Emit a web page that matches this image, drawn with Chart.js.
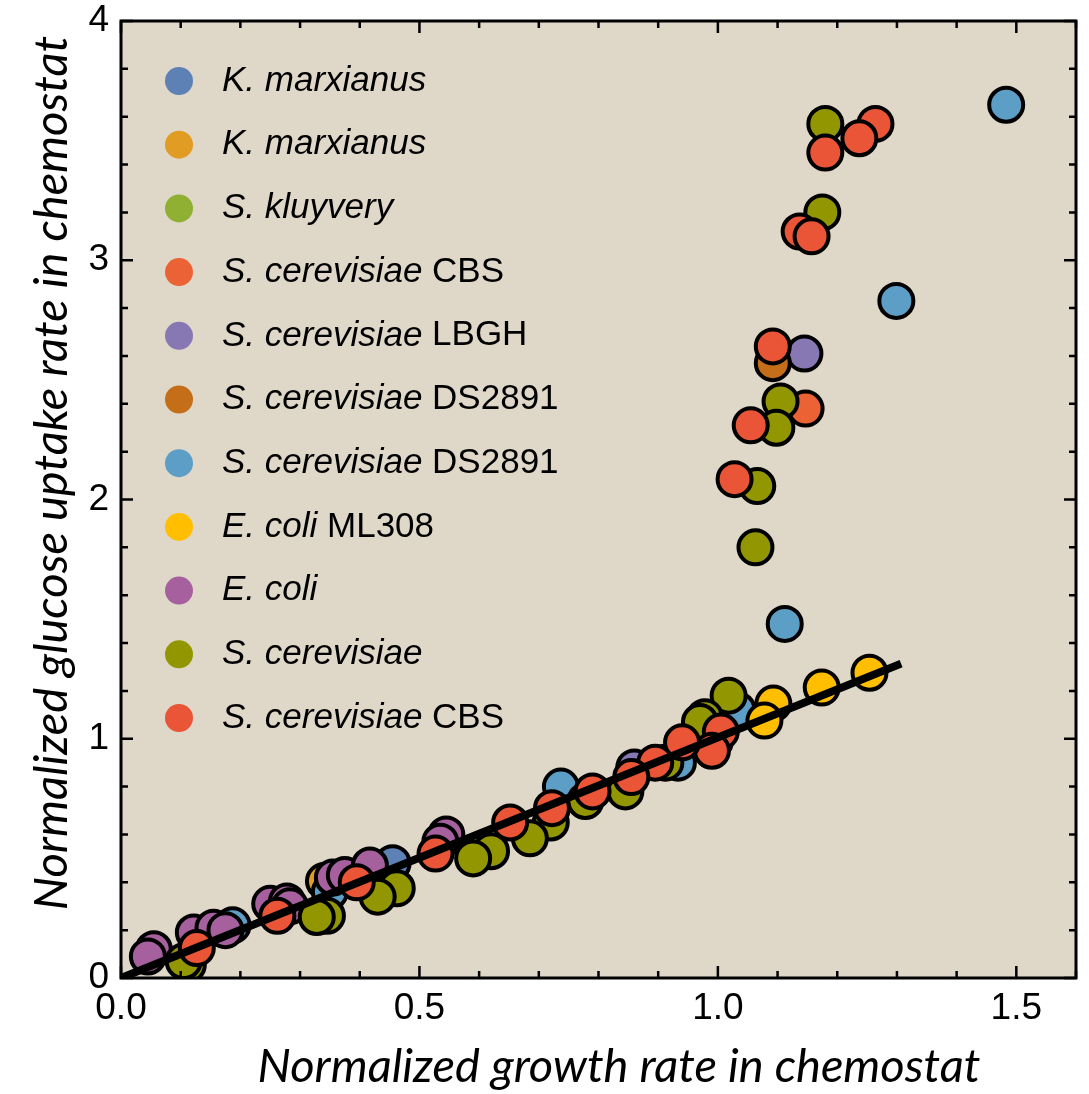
<!DOCTYPE html>
<html lang="en">
<head>
  <meta charset="UTF-8">
  <title>Glucose uptake vs growth rate</title>
  <style>
    body { margin: 0; background: #fff; }
    #grafico { display: block; }
  </style>
</head>
<body>
  <canvas id="grafico" width="1089" height="1094"></canvas>

  <script src="https://cdn.jsdelivr.net/npm/chart.js"></script>
  <script>
    // legend text: italic species name + plain strain name
    const nameItalic = ["K. marxianus", "K. marxianus", "S. kluyvery", "S. cerevisiae", "S. cerevisiae",
      "S. cerevisiae", "S. cerevisiae", "E. coli", "E. coli", "S. cerevisiae", "S. cerevisiae"];
    const namePlain = ["", "", "", "CBS", "LBGH", "DS2891", "DS2891", "ML308", "", "", "CBS"];
    const colores = ["#5e81b5", "#e19c24", "#8fb032", "#eb6235", "#8778b3", "#c56e1a",
      "#5d9ec7", "#ffbf00", "#a5609d", "#929600", "#e95536"];

    // normalized growth rate (x) / normalized glucose uptake rate (y), one pair per series
    const growthKm1 = [0.455, 0.36];
    const uptakeKm1 = [0.48, 0.41];
    const growthKm2 = [0.34, 0.355];
    const uptakeKm2 = [0.405, 0.395];
    const growthSk = [0.975];
    const uptakeSk = [1.06];
    const growthCbs1 = [1.147];
    const uptakeCbs1 = [2.38];
    const growthLbgh = [1.145, 0.86];
    const uptakeLbgh = [2.61, 0.88];
    const growthDs1 = [1.092];
    const uptakeDs1 = [2.57];
    const growthDs2 = [1.483, 1.299, 1.112, 1.033, 0.737, 0.933, 0.187, 0.35, 0.995];
    const uptakeDs2 = [3.65, 2.83, 1.48, 1.12, 0.80, 0.90, 0.22, 0.36, 0.99];
    const growthMl = [1.254, 1.174, 1.093, 1.078];
    const uptakeMl = [1.276, 1.214, 1.147, 1.076];
    const growthEc = [0.055, 0.045, 0.122, 0.155, 0.175, 0.25, 0.278, 0.283, 0.355, 0.375, 0.417, 0.545, 0.535];
    const uptakeEc = [0.12, 0.09, 0.19, 0.21, 0.20, 0.31, 0.32, 0.30, 0.42, 0.43, 0.47, 0.60, 0.57];
    const growthSc = [1.18, 1.175, 1.105, 1.098, 1.066, 1.063, 1.018, 0.978, 0.97, 0.912, 0.845, 0.778,
      0.72, 0.685, 0.62, 0.59, 0.462, 0.43, 0.345, 0.328, 0.112, 0.105];
    const uptakeSc = [3.57, 3.20, 2.41, 2.30, 2.056, 1.80, 1.18, 1.09, 1.07, 0.90, 0.78, 0.74,
      0.65, 0.584, 0.53, 0.50, 0.375, 0.34, 0.26, 0.255, 0.055, 0.07];
    const growthCbs2 = [1.264, 1.237, 1.18, 1.137, 1.157, 1.055, 1.028, 1.092, 1.005, 0.99, 0.94, 0.895,
      0.855, 0.79, 0.722, 0.652, 0.527, 0.395, 0.262, 0.127];
    const uptakeCbs2 = [3.57, 3.51, 3.45, 3.12, 3.10, 2.31, 2.085, 2.64, 1.03, 0.95, 0.985, 0.90,
      0.84, 0.78, 0.71, 0.65, 0.52, 0.40, 0.26, 0.125];

    // fitted line
    const lineaX = [0, 1.307];
    const lineaY = [0, 1.314];

    const xTicks = [0, 0.5, 1.0, 1.5];
    const yTicks = [0, 1, 2, 3, 4];

    const series = [
      [growthKm1, uptakeKm1], [growthKm2, uptakeKm2], [growthSk, uptakeSk], [growthCbs1, uptakeCbs1],
      [growthLbgh, uptakeLbgh], [growthDs1, uptakeDs1], [growthDs2, uptakeDs2], [growthMl, uptakeMl],
      [growthEc, uptakeEc], [growthSc, uptakeSc], [growthCbs2, uptakeCbs2]
    ];

    function puntos(xs, ys) {
      return xs.map((x, i) => ({ x: x, y: ys[i] }));
    }

    const datasets = series.map((s, i) => ({
      label: nameItalic[i] + " " + namePlain[i],
      data: puntos(s[0], s[1]),
      backgroundColor: colores[i],
      borderColor: "#000",
      borderWidth: 4,
      pointRadius: 17,
      pointHoverRadius: 17,
      order: series.length - i
    }));

    datasets.push({
      type: "line",
      label: "fit",
      data: puntos(lineaX, lineaY),
      borderColor: "#000",
      borderWidth: 8,
      pointRadius: 0,
      order: 0
    });

    const BG = "#dfd8c9";

    const marco = {
      id: "marco",
      beforeDraw(chart) {
        const { ctx, chartArea: a } = chart;
        ctx.save();
        ctx.fillStyle = BG;
        ctx.fillRect(a.left, a.top, a.right - a.left, a.bottom - a.top);
        ctx.restore();
      },
      afterDraw(chart) {
        const { ctx, chartArea: a, scales } = chart;
        ctx.save();
        // inward ticks on all four sides
        ctx.strokeStyle = "#000";
        ctx.lineWidth = 2.5;
        for (let k = 0; k <= 16; k++) {
          const px = scales.x.getPixelForValue(k / 10);
          const len = k % 5 === 0 ? 12 : 7;
          ctx.beginPath();
          ctx.moveTo(px, a.bottom); ctx.lineTo(px, a.bottom - len);
          ctx.moveTo(px, a.top); ctx.lineTo(px, a.top + len);
          ctx.stroke();
        }
        for (let k = 0; k <= 20; k++) {
          const py = scales.y.getPixelForValue(k / 5);
          const len = k % 5 === 0 ? 12 : 7;
          ctx.beginPath();
          ctx.moveTo(a.left, py); ctx.lineTo(a.left + len, py);
          ctx.moveTo(a.right, py); ctx.lineTo(a.right - len, py);
          ctx.stroke();
        }
        ctx.lineWidth = 3;
        ctx.strokeRect(a.left, a.top, a.right - a.left, a.bottom - a.top);

        // legend
        const fs = 35;
        for (let i = 0; i < nameItalic.length; i++) {
          const cy = 81 + i * 63.7;
          ctx.fillStyle = colores[i];
          ctx.beginPath();
          ctx.arc(179, cy, 14, 0, Math.PI * 2);
          ctx.fill();
          ctx.fillStyle = "#000";
          ctx.textBaseline = "middle";
          ctx.textAlign = "left";
          ctx.font = "italic " + fs + "px 'Liberation Sans', Arial, sans-serif";
          ctx.fillText(nameItalic[i], 222, cy);
          if (namePlain[i]) {
            const w = ctx.measureText(nameItalic[i] + " ").width;
            ctx.font = fs + "px 'Liberation Sans', Arial, sans-serif";
            ctx.fillText(namePlain[i], 222 + w, cy);
          }
        }

        // axis titles
        ctx.fillStyle = "#000";
        ctx.font = "italic 47px Lato, 'Open Sans', sans-serif";
        ctx.textAlign = "center";
        ctx.textBaseline = "alphabetic";
        ctx.fillText("Normalized growth rate in chemostat", 619, 1082);
        ctx.translate(67, 473);
        ctx.rotate(-Math.PI / 2);
        ctx.fillText("Normalized glucose uptake rate in chemostat", 0, 0);
        ctx.restore();
      }
    };

    const tickFont = { family: "'Liberation Sans', Arial, sans-serif", size: 37 };

    function sinRelleno(scale) {
      scale.paddingTop = 0;
      scale.paddingBottom = 0;
      scale.paddingLeft = 0;
      scale.paddingRight = 0;
    }

    new Chart(document.getElementById("grafico"), {
      type: "scatter",
      data: { datasets: datasets },
      options: {
        responsive: false,
        devicePixelRatio: 1,
        animation: false,
        layout: { padding: { top: 19, right: 13, left: 0, bottom: 0 } },
        plugins: { legend: { display: false }, tooltip: { enabled: false } },
        scales: {
          x: {
            type: "linear",
            min: 0,
            max: 1.6,
            afterFit(scale) { scale.height = 116; sinRelleno(scale); },
            afterBuildTicks(scale) { scale.ticks = xTicks.map(v => ({ value: v })); },
            grid: { display: false, drawTicks: false },
            border: { display: false },
            ticks: {
              padding: 9,
              color: "#000",
              font: tickFont,
              callback: v => Number(v).toFixed(1)
            }
          },
          y: {
            type: "linear",
            min: 0,
            max: 4,
            afterFit(scale) { scale.width = 121; sinRelleno(scale); },
            afterBuildTicks(scale) { scale.ticks = yTicks.map(v => ({ value: v })); },
            grid: { display: false, drawTicks: false },
            border: { display: false },
            ticks: {
              padding: 12,
              color: "#000",
              font: tickFont,
              callback: v => String(v)
            }
          }
        }
      },
      plugins: [marco, {
        id: "ajuste",
        // keep the plot frame where the reference has it (right edge at 1076)
        afterLayout(chart) {
          const a = chart.chartArea;
          if (a.right !== 1076) {
            chart.scales.x.right = 1076;
            chart.scales.x.width = 1076 - chart.scales.x.left;
            a.right = 1076;
            a.width = a.right - a.left;
            chart.scales.x.configure();
          }
        }
      }]
    });
  </script>
</body>
</html>
